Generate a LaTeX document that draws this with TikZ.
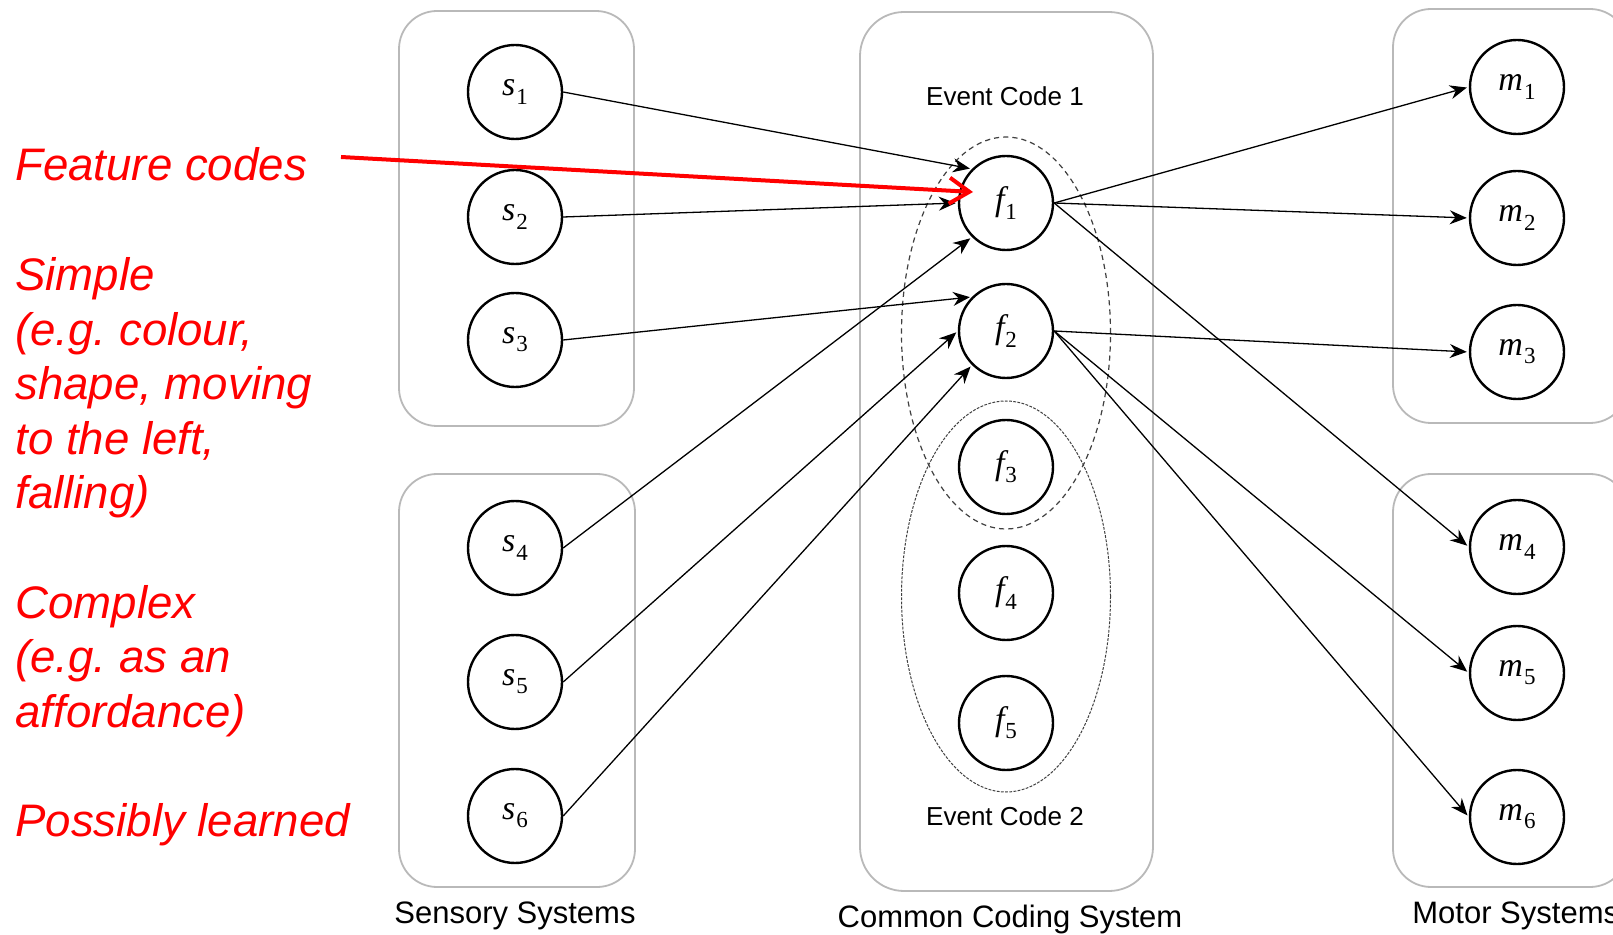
\documentclass[tikz,border=0pt]{standalone}
\usepackage{fontspec}
\setmainfont{Liberation Sans}
\newfontfamily\unitserif{Liberation Serif}
\usetikzlibrary{arrows.meta,shapes.geometric}

% italic letter with a lowered upright index, as used inside the unit circles
\newcommand{\unitname}[2]{{\unitserif\itshape #1}\kern0.5pt\raisebox{-0.45ex}{\unitserif\fontsize{11.5}{12}\selectfont #2}}

\begin{document}
\begin{tikzpicture}[x=0.5pt,y=-0.5pt,
  unit/.style={circle, draw, fill=white, line width=1.2pt, minimum size=47pt,
    inner sep=0pt, font=\fontsize{17}{19}\selectfont},
  sysbox/.style={draw=gray!55, line width=0.9pt, rounded corners=19pt, fill=white,
    inner sep=0pt},
  link/.style={line width=0.65pt, shorten >=1pt,
    -{Stealth[length=8.5pt,width=7pt,inset=2.8pt]}},
  groupA/.style={ellipse, draw=black!75, line width=0.6pt,
    dash pattern=on 2.6pt off 2pt, inner sep=0pt},
  groupB/.style={ellipse, draw=black!75, line width=0.5pt,
    dash pattern=on 1.4pt off 0.7pt, inner sep=0pt},
  note/.style={anchor=base west, text=red, inner sep=0pt,
    font=\fontsize{22.8}{27}\selectfont\itshape\frenchspacing},
  syslabel/.style={font=\fontsize{15.5}{18}\selectfont, inner sep=0pt, anchor=base},
  eventlabel/.style={font=\fontsize{13}{15}\selectfont, inner sep=0pt, anchor=base},
]
\useasboundingbox (0,0) rectangle (1613,935);
\clip (0,0) rectangle (1613,935);

% system containers
\node[sysbox, minimum width=117.5pt, minimum height=207.5pt] (sensTop) at (516.5,218.5) {};
\node[sysbox, minimum width=118pt, minimum height=206.5pt] (sensBot) at (517,680.5) {};
\node[sysbox, rounded corners=22pt, minimum width=146.5pt, minimum height=439.5pt] (common) at (1006.5,451.5) {};
\node[sysbox, minimum width=117.5pt, minimum height=207pt] (motTop) at (1510.5,216) {};
\node[sysbox, minimum width=117.5pt, minimum height=206.5pt] (motBot) at (1510.5,680.5) {};

% event code groupings
\node[groupA, minimum width=104.5pt, minimum height=196pt] (ev1) at (1006,333) {};
\node[groupB, minimum width=104.5pt, minimum height=195.5pt] (ev2) at (1006,596.5) {};

% sensory units
\node[unit] (s1) at (515,92) {\unitname{s}{1}};
\node[unit] (s2) at (515,217) {\unitname{s}{2}};
\node[unit] (s3) at (515,340) {\unitname{s}{3}};
\node[unit] (s4) at (515,548) {\unitname{s}{4}};
\node[unit] (s5) at (515,682) {\unitname{s}{5}};
\node[unit] (s6) at (515,816) {\unitname{s}{6}};

% feature units
\node[unit] (f1) at (1006,203) {\unitname{f}{1}};
\node[unit] (f2) at (1006,331) {\unitname{f}{2}};
\node[unit] (f3) at (1006,467) {\unitname{f}{3}};
\node[unit] (f4) at (1006,593) {\unitname{f}{4}};
\node[unit] (f5) at (1006,723) {\unitname{f}{5}};

% motor units
\node[unit] (m1) at (1517,87) {\unitname{m}{1}};
\node[unit] (m2) at (1517,218) {\unitname{m}{2}};
\node[unit] (m3) at (1517,352) {\unitname{m}{3}};
\node[unit] (m4) at (1517,547) {\unitname{m}{4}};
\node[unit] (m5) at (1517,673) {\unitname{m}{5}};
\node[unit] (m6) at (1517,817) {\unitname{m}{6}};

% labels
\node[eventlabel] (ec1) at (1005,106) {Event Code 1};
\node[eventlabel] (ec2) at (1005,825) {Event Code 2};
\node[syslabel] (lsens) at (515,923) {Sensory Systems};
\node[syslabel] (lcommon) at (1010,927) {Common Coding System};
\node[syslabel, anchor=base west] (lmotor) at (1412,923) {Motor Systems};

% sensory to feature links
\draw[link] (s1.east) -- (f1.north west);
\draw[link] (s2.east) -- (f1.west);
\draw[link] (s4.east) -- (f1.south west);
\draw[link] (s3.east) -- (f2.north west);
\draw[link] (s5.east) -- (f2.west);
\draw[link] (s6.east) -- (f2.south west);

% feature to motor links
\draw[link] (f1.east) -- (m1.west);
\draw[link] (f1.east) -- (m2.west);
\draw[link] (f1.east) -- (m4.west);
\draw[link] (f2.east) -- (m3.west);
\draw[link] (f2.east) -- (m5.west);
\draw[link] (f2.east) -- (m6.west);

% annotations
\node[note] (n1) at (15,181) {Feature codes};
\node[note] (n2) at (15,291) {Simple};
\node[note] (n3) at (15,345.5) {(e.g. colour,};
\node[note] (n4) at (15,400) {shape, moving};
\node[note] (n5) at (15,454.5) {to the left,};
\node[note] (n6) at (15,509) {falling)};
\node[note] (n7) at (15,618) {Complex};
\node[note] (n8) at (15,672.5) {(e.g. as an};
\node[note] (n9) at (15,727) {affordance)};
\node[note] (n10) at (15,836) {Possibly learned};

\coordinate (fcstart) at (341,157);
\coordinate (fctip) at (973,192);
\draw[red, line width=2pt, -{Straight Barb[length=10pt,width=13pt]}] (fcstart) -- (fctip);
\end{tikzpicture}
\end{document}
